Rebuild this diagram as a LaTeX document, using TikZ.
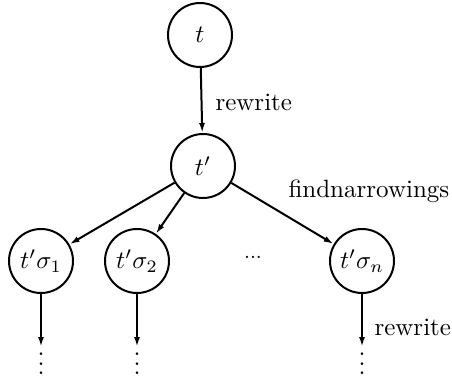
\documentclass[tikz,border=0pt]{standalone}
\usepackage{amsmath}
\usepackage{tikz}
\usetikzlibrary{positioning,shapes,arrows.meta}

\newcommand{\stepdots}{\vbox{\baselineskip3.8pt\lineskiplimit0pt\hbox{.}\hbox{.}\hbox{.}}}

\begin{document}
\begin{tikzpicture}[x=0.4pt,y=0.4pt,
  term/.style={draw,shape=circle,line width=0.8pt,minimum size=25.6pt,inner sep=0pt},
  step arrow/.style={line width=0.8pt,-{Latex[length=4pt,width=2.4pt]}},
  more/.style={inner sep=0pt,outer sep=2.4pt,anchor=north}]
\useasboundingbox (0,0) rectangle (452,380);
      %\draw node at (253,122) {...};

\draw node (t) at (200,345) [term]{$t$};
\draw node (t1) at (203,214) [term]{$t'$};
\draw node (s1) at (41,119) [term]{$t'\sigma_1$};
\draw node (s2) at (137,119) [term]{$t'\sigma_2$};
\draw node (sn) at (362,119) [term]{$t'\sigma_n$};
\draw node (dots) at (253,123) [inner sep=0pt]{\footnotesize ...};
\draw node (d1) at (41,33) [more]{\stepdots};
\draw node (d2) at (137,33) [more]{\stepdots};
\draw node (dn) at (362,33) [more]{\stepdots};
\draw node (rw1) at (215,278) [anchor=west,inner sep=0pt]{rewrite};
\draw node (fn) at (288,189) [anchor=west,inner sep=0pt]{findnarrowings};
\draw node (rw2) at (374,53) [anchor=west,inner sep=0pt]{rewrite};
\draw[step arrow] (t) -- (t1);
\draw[step arrow] (t1) -- (s1);
\draw[step arrow] (t1) -- (s2);
\draw[step arrow] (t1) -- (sn);
\draw[step arrow] (s1) -- (d1);
\draw[step arrow] (s2) -- (d2);
\draw[step arrow] (sn) -- (dn);
\end{tikzpicture}
\end{document}
